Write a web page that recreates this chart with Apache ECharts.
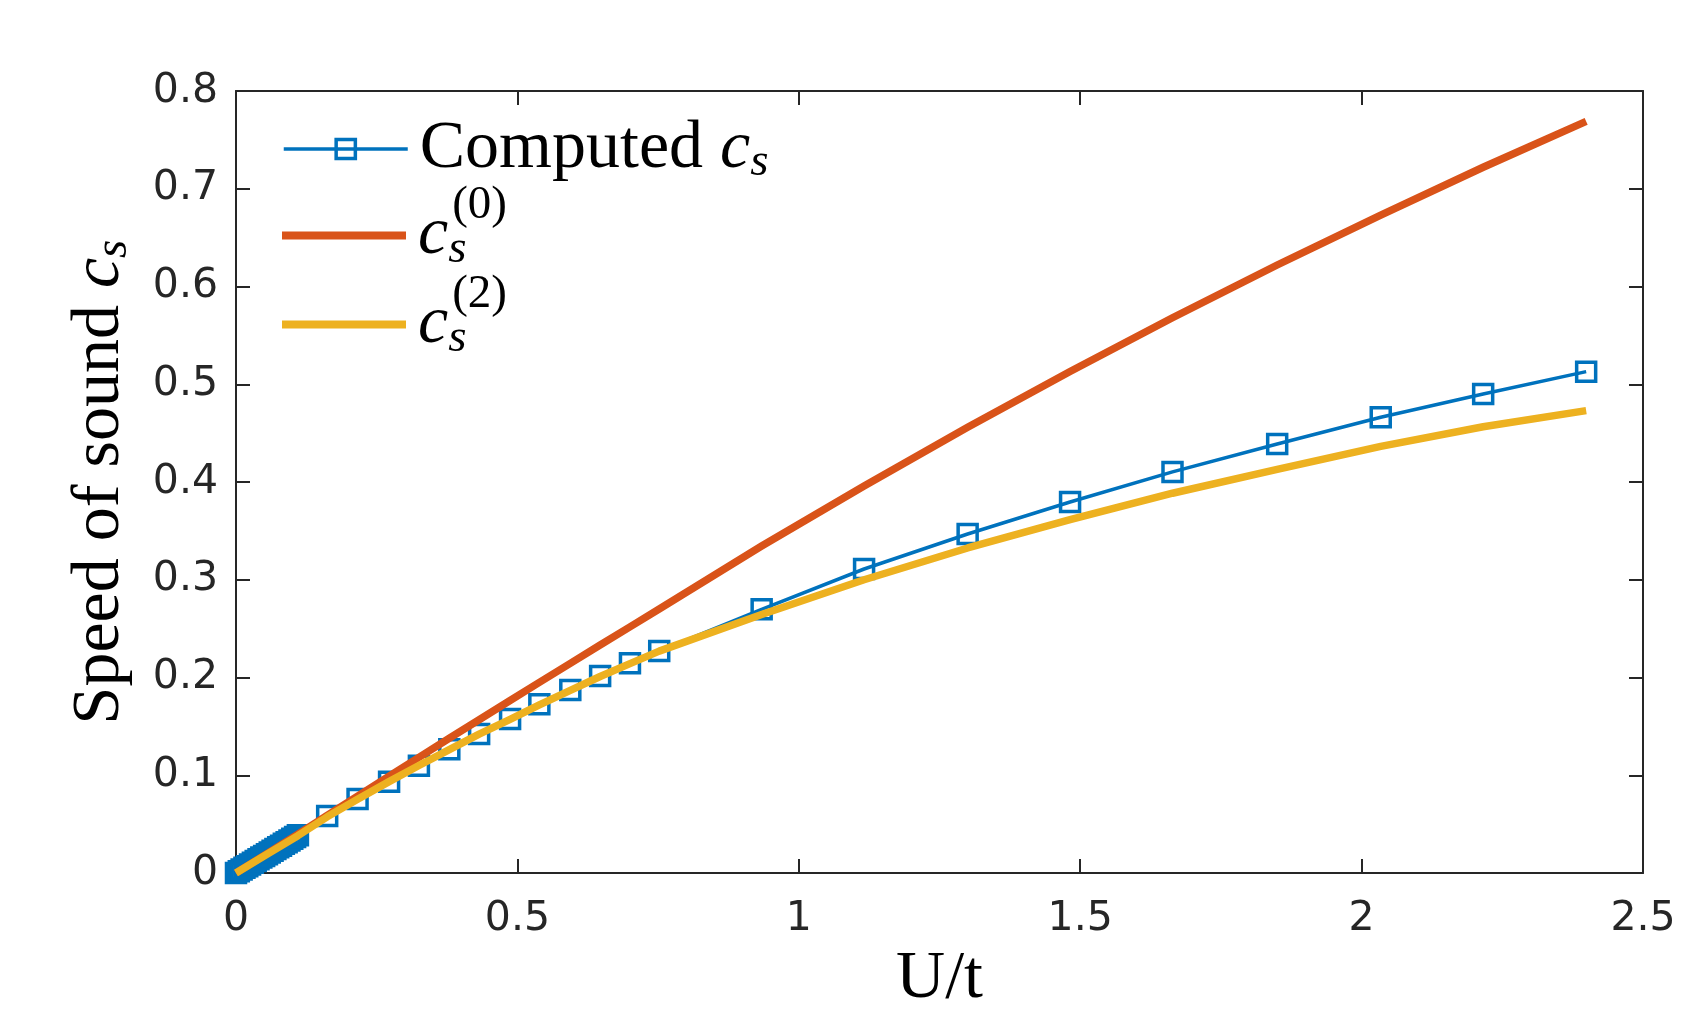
<!DOCTYPE html>
<html>
<head>
<meta charset="utf-8">
<script src="https://cdn.jsdelivr.net/npm/echarts@6/dist/echarts.min.js"></script>
<style>
html,body{margin:0;padding:0;background:#ffffff;}
#chart{width:1704px;height:1028px;}
</style>
</head>
<body>
<div id="chart"></div>
<script>
// ---- data ----
// Computed c_s (markers)
const computedU = [0, 0.005, 0.01, 0.015, 0.02, 0.025, 0.03, 0.035, 0.04, 0.045, 0.05, 0.055,
  0.06, 0.065, 0.07, 0.075, 0.08, 0.085, 0.09, 0.095, 0.10, 0.105, 0.11,
  0.162, 0.216, 0.272, 0.325, 0.379, 0.432, 0.487, 0.539, 0.594, 0.647, 0.700, 0.752,
  0.934, 1.116, 1.300, 1.482, 1.664, 1.850, 2.034, 2.216, 2.399];
const computedCs = [0, 0.0018, 0.0035, 0.0053, 0.0070, 0.0088, 0.0105, 0.0123, 0.0140, 0.0158, 0.0175, 0.0193,
  0.0210, 0.0228, 0.0245, 0.0263, 0.0280, 0.0298, 0.0315, 0.0333, 0.0350, 0.0368, 0.0385,
  0.0582, 0.0757, 0.0934, 0.1098, 0.1265, 0.1422, 0.1575, 0.1726, 0.1872, 0.2015, 0.2145, 0.2271,
  0.2698, 0.3110, 0.3468, 0.3795, 0.4103, 0.4389, 0.4662, 0.4900, 0.5129];
// analytic curves c_s^(0) and c_s^(2)
const curveU = [0, 0.055, 0.11, 0.162, 0.216, 0.272, 0.325, 0.379, 0.432, 0.487, 0.539, 0.594, 0.647, 0.700, 0.752,
  0.934, 1.116, 1.300, 1.482, 1.664, 1.850, 2.034, 2.216, 2.399];
const cs0 = [0, 0.0198, 0.0396, 0.059, 0.0787, 0.0990, 0.1183, 0.1378, 0.1568, 0.1765, 0.1950, 0.2145, 0.2332, 0.2518, 0.2700,
  0.3345, 0.3960, 0.4560, 0.5130, 0.5680, 0.6220, 0.6730, 0.7220, 0.7690];
const cs2 = [0, 0.0192, 0.0382, 0.0575, 0.0755, 0.0935, 0.1100, 0.1262, 0.1420, 0.1572, 0.1720, 0.1868, 0.2010, 0.2142, 0.2270,
  0.2645, 0.3000, 0.3325, 0.3615, 0.3885, 0.4130, 0.4365, 0.4565, 0.4730];
const xTicks = [0, 0.5, 1, 1.5, 2, 2.5];
const yTicks = [0, 0.1, 0.2, 0.3, 0.4, 0.5, 0.6, 0.7, 0.8];
const seriesNames = ['Computed', 'cs0', 'cs2'];
const legendTexts = [
  '{rm|Computed }{it|c}{sub|s}',
  '{it0|c}{subw|s}{sup|(0)}',
  '{it0|c}{subw|s}{sup|(2)}'
];
const xAxisTitle = 'U/t';
const yAxisTitle = 'Speed of sound {it|c}{sub|s}';

// ---- styling ----
const BLUE = '#0072BD', ORANGE = '#D95319', YELLOW = '#EDB120';
const AX = '#262626';
const SANS = 'DejaVu Sans';
const SERIF = 'Liberation Serif';
const FS = 68, FSS = 47;

const richBase = {
  rm:   {fontFamily: SERIF, fontSize: FS, color: '#000', padding: [0, 0, 0, 7]},
  it:   {fontFamily: SERIF, fontSize: FS, fontStyle: 'italic', color: '#000'},
  it0:  {fontFamily: SERIF, fontSize: FS, fontStyle: 'italic', color: '#000', padding: [0, 0, 0, 7]},
  sub:  {fontFamily: SERIF, fontSize: FSS, fontStyle: 'italic', color: '#000', padding: [28, 0, 0, 0]},
  subw: {fontFamily: SERIF, fontSize: FSS, fontStyle: 'italic', color: '#000', padding: [28, 0, 0, 0], width: 4},
  sup:  {fontFamily: SERIF, fontSize: FSS, color: '#000', padding: [0, 0, 60, 0]}
};

const pairs = (us, vals) => us.map((u, i) => [u, vals[i]]);

const xMin = xTicks[0], xMax = xTicks[xTicks.length - 1], xStep = xTicks[1] - xTicks[0];
const yMin = yTicks[0], yMax = yTicks[yTicks.length - 1], yStep = yTicks[1] - yTicks[0];

const tickStyle = {show: true, inside: true, length: 14, lineStyle: {color: AX, width: 2}};
const lineStyleAx = {show: true, onZero: false, lineStyle: {color: AX, width: 2}};

function legendFor(idx, top, opts) {
  return Object.assign({
    show: true,
    orient: 'vertical',
    left: 282,
    top: top,
    padding: 0,
    itemWidth: 124,
    selectedMode: false,
    data: [seriesNames[idx]],
    formatter: () => legendTexts[idx],
    textStyle: {fontFamily: SERIF, fontSize: FS, color: '#000', lineHeight: 80, rich: richBase}
  }, opts);
}

const chart = echarts.init(document.getElementById('chart'), null, {renderer: 'canvas'});
chart.setOption({
  animation: false,
  backgroundColor: '#ffffff',
  grid: {left: 236, right: 61, top: 91, bottom: 155, containLabel: false},
  xAxis: [
    {
      type: 'value', position: 'bottom', min: xMin, max: xMax, interval: xStep,
      axisLine: lineStyleAx, axisTick: tickStyle, splitLine: {show: false},
      axisLabel: {show: true, margin: 26, fontFamily: SANS, fontSize: 41, color: AX},
      name: xAxisTitle, nameLocation: 'middle', nameGap: 73,
      nameTextStyle: {fontFamily: SERIF, fontSize: FS, color: '#000', lineHeight: 64}
    },
    {
      type: 'value', position: 'top', min: xMin, max: xMax, interval: xStep,
      axisLine: lineStyleAx, axisTick: tickStyle, splitLine: {show: false},
      axisLabel: {show: false}
    }
  ],
  yAxis: [
    {
      type: 'value', position: 'left', min: yMin, max: yMax, interval: yStep,
      axisLine: lineStyleAx, axisTick: tickStyle, splitLine: {show: false},
      axisLabel: {show: true, margin: 18, fontFamily: SANS, fontSize: 41, color: AX},
      name: yAxisTitle, nameLocation: 'middle', nameGap: 104,
      nameTextStyle: {fontFamily: SERIF, fontSize: FS, color: '#000', lineHeight: 64, rich: richBase}
    },
    {
      type: 'value', position: 'right', min: yMin, max: yMax, interval: yStep,
      axisLine: lineStyleAx, axisTick: tickStyle, splitLine: {show: false},
      axisLabel: {show: false}
    }
  ],
  legend: [
    legendFor(0, 109, {
      itemHeight: 24,
      itemStyle: {color: 'rgba(0,0,0,0)', borderColor: BLUE, borderWidth: 3.5},
      lineStyle: {color: BLUE, width: 3.5}
    }),
    legendFor(1, 182, {icon: 'rect', itemHeight: 8, itemStyle: {color: ORANGE, borderWidth: 0}}),
    legendFor(2, 271, {icon: 'rect', itemHeight: 8, itemStyle: {color: YELLOW, borderWidth: 0}})
  ],
  series: [
    {
      name: seriesNames[0], type: 'line', data: pairs(computedU, computedCs), z: 2,
      symbol: 'rect', symbolSize: 19, showSymbol: true,
      lineStyle: {color: BLUE, width: 3.5},
      itemStyle: {color: 'rgba(0,0,0,0)', borderColor: BLUE, borderWidth: 3.5},
      emphasis: {disabled: true}, silent: true
    },
    {
      name: seriesNames[1], type: 'line', data: pairs(curveU, cs0), z: 3,
      showSymbol: false, symbol: 'none',
      color: ORANGE,
      lineStyle: {color: ORANGE, width: 7.5, cap: 'butt', join: 'round'},
      itemStyle: {color: ORANGE},
      emphasis: {disabled: true}, silent: true
    },
    {
      name: seriesNames[2], type: 'line', data: pairs(curveU, cs2), z: 4,
      showSymbol: false, symbol: 'none',
      color: YELLOW,
      lineStyle: {color: YELLOW, width: 7.5, cap: 'butt', join: 'round'},
      itemStyle: {color: YELLOW},
      emphasis: {disabled: true}, silent: true
    }
  ]
});
</script>
</body>
</html>
